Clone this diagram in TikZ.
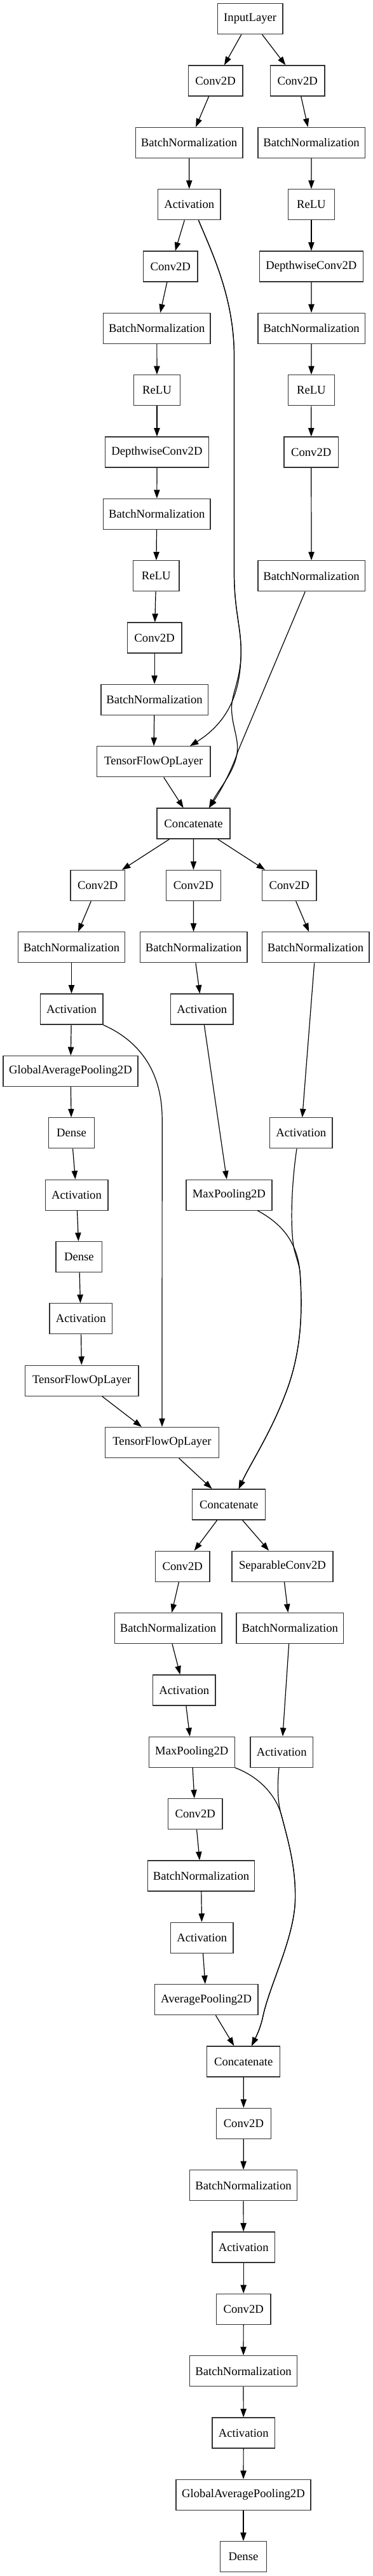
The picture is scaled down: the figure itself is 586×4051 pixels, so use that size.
\documentclass[tikz,border=0pt]{standalone}
\usepackage{fontspec}
\setmainfont{Liberation Serif}
\usetikzlibrary{arrows.meta,calc}
\begin{document}
\begin{tikzpicture}[x=0.75pt,y=-0.75pt,
  lay/.style={draw=black!80, line width=1pt, minimum height=36pt, inner sep=0pt,
    font=\fontsize{14}{16}\selectfont, minimum width=#1},
  conn/.style={draw=black, line width=0.9pt, -{Triangle[length=10pt,width=7pt]}},
  wIn/.style={lay=77.1pt}, wConv/.style={lay=64.2pt}, wBN/.style={lay=126.4pt},
  wAct/.style={lay=74pt}, wRelu/.style={lay=54.4pt}, wDw/.style={lay=122.3pt},
  wTf/.style={lay=134pt}, wCat/.style={lay=86.3pt}, wGap/.style={lay=159.2pt},
  wDense/.style={lay=54.4pt}, wMp/.style={lay=101.2pt}, wSep/.style={lay=119.1pt},
  wAp/.style={lay=121.9pt}]
\useasboundingbox (0,0) rectangle (586,4051);
\fill[white] (0,0) rectangle (586,4051);
% nodes
\node[wIn] (in) at (393.7,29.7) {InputLayer};
\node[wConv] (c1L) at (339.1,127.0) {Conv2D};
\node[wConv] (c1R) at (468.2,127.0) {Conv2D};
\node[wBN] (bn2L) at (297.6,224.4) {BatchNormalization};
\node[wBN] (bn2R) at (490.1,224.4) {BatchNormalization};
\node[wAct] (act3) at (297.8,321.7) {Activation};
\node[wRelu] (relu3R) at (489.9,321.7) {ReLU};
\node[wConv] (c4) at (268.3,419.1) {Conv2D};
\node[wDw] (dw4R) at (489.9,419.1) {DepthwiseConv2D};
\node[wBN] (bn5) at (246.8,516.4) {BatchNormalization};
\node[wBN] (bn5R) at (490.1,516.4) {BatchNormalization};
\node[wRelu] (relu6) at (247,613.7) {ReLU};
\node[wRelu] (relu6R) at (489.9,613.7) {ReLU};
\node[wDw] (dw7) at (247,711.1) {DepthwiseConv2D};
\node[wConv] (c7R) at (489.7,711.1) {Conv2D};
\node[wBN] (bn8) at (246.8,808.4) {BatchNormalization};
\node[wRelu] (relu9) at (245.7,905.8) {ReLU};
\node[wBN] (bn9R) at (490.1,905.8) {BatchNormalization};
\node[wConv] (c10) at (243.1,1003.1) {Conv2D};
\node[wBN] (bn11) at (243.1,1100.4) {BatchNormalization};
\node[wTf] (tf12) at (241.8,1197.8) {TensorFlowOpLayer};
\node[wCat] (cat13) at (304.6,1295.1) {Concatenate};
\node[wConv] (c14A) at (153.8,1392.5) {Conv2D};
\node[wConv] (c14B) at (304.4,1392.5) {Conv2D};
\node[wConv] (c14C) at (455.2,1392.5) {Conv2D};
\node[wBN] (bn15A) at (112.5,1489.8) {BatchNormalization};
\node[wBN] (bn15B) at (304.6,1489.8) {BatchNormalization};
\node[wBN] (bn15C) at (496.6,1489.8) {BatchNormalization};
\node[wAct] (act16A) at (112.5,1587.1) {Activation};
\node[wAct] (act16B) at (317.8,1587.1) {Activation};
\node[wGap] (gap17) at (111,1684.5) {GlobalAveragePooling2D};
\node[wDense] (dense18) at (112.5,1781.8) {Dense};
\node[wAct] (act18C) at (473.8,1781.8) {Activation};
\node[wAct] (act19) at (120.5,1879.2) {Activation};
\node[wMp] (mp19) at (360.4,1879.2) {MaxPooling2D};
\node[wDense] (dense20) at (124.4,1976.5) {Dense};
\node[wAct] (act21) at (127.2,2073.8) {Activation};
\node[wTf] (tf22) at (128.7,2171.2) {TensorFlowOpLayer};
\node[wTf] (tf23) at (255,2268.5) {TensorFlowOpLayer};
\node[wCat] (cat24) at (360.2,2365.9) {Concatenate};
\node[wConv] (c25) at (287.2,2463.2) {Conv2D};
\node[wSep] (sep25) at (444.5,2463.2) {SeparableConv2D};
\node[wBN] (bn26) at (264.6,2560.5) {BatchNormalization};
\node[wBN] (bn26R) at (456.3,2560.5) {BatchNormalization};
\node[wAct] (act27) at (289.8,2657.9) {Activation};
\node[wMp] (mp28) at (301.8,2755.2) {MaxPooling2D};
\node[wAct] (act28R) at (443.2,2755.2) {Activation};
\node[wConv] (c29) at (307.2,2852.6) {Conv2D};
\node[wBN] (bn30) at (316.5,2949.9) {BatchNormalization};
\node[wAct] (act31) at (317.8,3047.2) {Activation};
\node[wAp] (ap32) at (324.6,3144.6) {AveragePooling2D};
\node[wCat] (cat33) at (383.2,3241.9) {Concatenate};
\node[wConv] (c34) at (383.4,3339.3) {Conv2D};
\node[wBN] (bn35) at (383,3436.6) {BatchNormalization};
\node[wAct] (act36) at (383.2,3533.9) {Activation};
\node[wConv] (c37) at (383.2,3631.3) {Conv2D};
\node[wBN] (bn38) at (383,3728.6) {BatchNormalization};
\node[wAct] (act39) at (383.2,3826.0) {Activation};
\node[wGap] (gap40) at (383,3923.3) {GlobalAveragePooling2D};
\node[wDense] (dense41) at (383,4020.6) {Dense};
% straight connectors
\draw[conn] (in) -- (c1L);
\draw[conn] (in) -- (c1R);
\draw[conn] (c1L) -- (bn2L);
\draw[conn] (c1R) -- (bn2R);
\draw[conn] (bn2L) -- (act3);
\draw[conn] (bn2R) -- (relu3R);
\draw[conn] (act3) -- (c4);
\draw[conn] (relu3R) -- (dw4R);
\draw[conn] (c4) -- (bn5);
\draw[conn] (dw4R) -- (bn5R);
\draw[conn] (bn5) -- (relu6);
\draw[conn] (bn5R) -- (relu6R);
\draw[conn] (relu6) -- (dw7);
\draw[conn] (relu6R) -- (c7R);
\draw[conn] (dw7) -- (bn8);
\draw[conn] (c7R) -- (bn9R);
\draw[conn] (bn8) -- (relu9);
\draw[conn] (relu9) -- (c10);
\draw[conn] (c10) -- (bn11);
\draw[conn] (bn11) -- (tf12);
\draw[conn] (tf12) -- (cat13);
\draw[conn] (cat13) -- (c14A);
\draw[conn] (cat13) -- (c14B);
\draw[conn] (cat13) -- (c14C);
\draw[conn] (c14A) -- (bn15A);
\draw[conn] (c14B) -- (bn15B);
\draw[conn] (c14C) -- (bn15C);
\draw[conn] (bn15A) -- (act16A);
\draw[conn] (bn15B) -- (act16B);
\draw[conn] (bn15C) -- (act18C);
\draw[conn] (act16A) -- (gap17);
\draw[conn] (act16B) -- (mp19);
\draw[conn] (gap17) -- (dense18);
\draw[conn] (dense18) -- (act19);
\draw[conn] (act19) -- (dense20);
\draw[conn] (dense20) -- (act21);
\draw[conn] (act21) -- (tf22);
\draw[conn] (tf22) -- (tf23);
\draw[conn] (tf23) -- (cat24);
\draw[conn] (cat24) -- (c25);
\draw[conn] (cat24) -- (sep25);
\draw[conn] (c25) -- (bn26);
\draw[conn] (sep25) -- (bn26R);
\draw[conn] (bn26) -- (act27);
\draw[conn] (bn26R) -- (act28R);
\draw[conn] (act27) -- (mp28);
\draw[conn] (mp28) -- (c29);
\draw[conn] (c29) -- (bn30);
\draw[conn] (bn30) -- (act31);
\draw[conn] (act31) -- (ap32);
\draw[conn] (ap32) -- (cat33);
\draw[conn] (cat33) -- (c34);
\draw[conn] (c34) -- (bn35);
\draw[conn] (bn35) -- (act36);
\draw[conn] (act36) -- (c37);
\draw[conn] (c37) -- (bn38);
\draw[conn] (bn38) -- (act39);
\draw[conn] (act39) -- (gap40);
\draw[conn] (gap40) -- (dense41);
% curved connectors
\draw[conn] ($(act3.south)+(14.6,0)$) .. controls (335,400) and (368.5,470) .. (368.5,560)
  -- (368.5,900) .. controls (368.5,960) and (379.3,985) .. (379.3,1025)
  .. controls (379,1075) and (368,1130) .. ($(tf12.north)+(57.2,0)$);
\draw[conn] ($(act3.south)+(14.6,0)$) .. controls (335,400) and (368.5,470) .. (368.5,560)
  -- (368.5,900) .. controls (368.5,960) and (379.3,985) .. (379.3,1025)
  .. controls (379,1070) and (364,1090) .. (364.5,1115)
  .. controls (365,1140) and (375,1160) .. (373.5,1180)
  .. controls (372,1210) and (345,1240) .. ($(cat13.north)+(24.4,0)$);
\draw[conn] ($(bn9R.south)+(-9.9,0)$) -- (375,1180)
  .. controls (367,1205) and (350,1240) .. ($(cat13.north)+(24.4,0)$);
\draw[conn] (act16A.south east) .. controls (215,1635) and (255,1680) .. (255.2,1760)
  -- (tf23.north);
\draw[conn] ($(mp19.south)+(45,0)$) .. controls (445,1925) and (468,1955) .. (472,2000)
  .. controls (478,2080) and (470,2140) .. (448,2195)
  .. controls (425,2255) and (395,2300) .. ($(cat24.north)+(15.4,0)$);
\draw[conn] ($(act18C.south)+(-6.8,0)$) .. controls (459,1860) and (456,1930) .. (463,1965)
  .. controls (467,1980) and (471,1990) .. (472,2000)
  .. controls (478,2080) and (470,2140) .. (448,2195)
  .. controls (425,2255) and (395,2300) .. ($(cat24.north)+(15.4,0)$);
\draw[conn] (mp28.south east) .. controls (410,2795) and (435,2825) .. (443,2855)
  .. controls (455,2900) and (466,2940) .. (464.5,2990)
  .. controls (462,3050) and (425,3120) .. (414,3170)
  .. controls (410,3190) and (402,3205) .. ($(cat33.north)+(12.8,0)$);
\draw[conn] ($(act28R.south)+(-4.2,0)$) .. controls (436,2810) and (437,2835) .. (443,2855)
  .. controls (455,2900) and (466,2940) .. (464.5,2990)
  .. controls (462,3050) and (425,3120) .. (414,3170)
  .. controls (410,3190) and (402,3205) .. ($(cat33.north)+(12.8,0)$);
\end{tikzpicture}
\end{document}
